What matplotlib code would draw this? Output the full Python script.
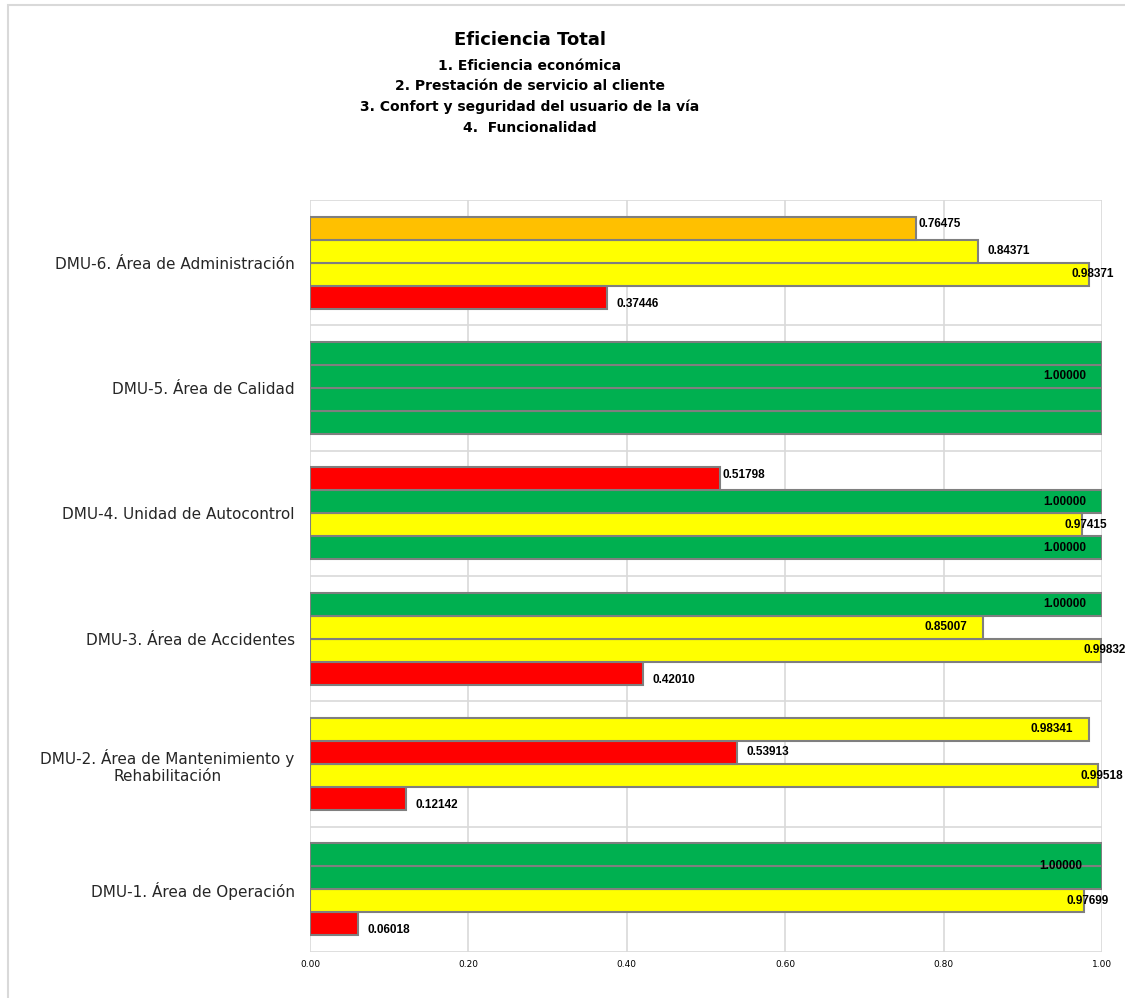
import numpy as np
import matplotlib
matplotlib.use("Agg")
from matplotlib import pyplot as plt
from matplotlib.patches import Rectangle

# Categories (bottom to top, as drawn)
dmus = ["DMU-1. Área de Operación",
        "DMU-2. Área de Mantenimiento y\nRehabilitación",
        "DMU-3. Área de Accidentes",
        "DMU-4. Unidad de Autocontrol",
        "DMU-5. Área de Calidad",
        "DMU-6. Área de Administración"]

# One list per criterion (series 1 is the lowest bar of each group)
ef_economica = [0.06018, 0.12142, 0.42010, 1.00000, 1.00000, 0.37446]
servicio_cliente = [0.97699, 0.99518, 0.99832, 0.97415, 1.00000, 0.98371]
confort_seguridad = [1.00000, 0.53913, 0.85007, 1.00000, 1.00000, 0.84371]
funcionalidad = [1.00000, 0.98341, 1.00000, 0.51798, 1.00000, 0.76475]

series = [ef_economica, servicio_cliente, confort_seguridad, funcionalidad]

# Where each data label sits (style only), same layout as series
label_mode = [
    ["low", "low", "low", "in", "none", "low"],
    ["end", "end", "end", "end", "none", "end"],
    ["mid", "out", "in", "in", "in", "out"],
    ["none", "in", "in", "side", "none", "side"],
]

def bar_color(v):
    # colour scale used in the original sheet
    if v >= 1.0:
        return "#00B050"
    if v >= 0.8:
        return "#FFFF00"
    if v >= 0.7:
        return "#FFC000"
    return "#FF0000"

plt.rcParams["font.family"] = ["DejaVu Sans"]

fig = plt.figure(figsize=(11.25, 9.98), dpi=100)
ax = fig.add_axes([310 / 1125, 1 - 952 / 998, 792 / 1125, 752 / 998])

y = np.arange(len(dmus))
h = 0.184
for i, vals in enumerate(series):
    pos = y - 2 * h + h * (i + 0.5)
    ax.barh(pos, vals, height=h, color=[bar_color(v) for v in vals],
            edgecolor="#7f7f7f", linewidth=1.5, zorder=3)
    for j, v in enumerate(vals):
        mode = label_mode[i][j]
        txt = "%.5f" % v
        kw = dict(fontsize=8.5, fontweight="bold", color="black", zorder=5,
                  family="Liberation Sans")
        if mode == "none":
            continue
        if mode == "in":
            ax.text(v - 0.02, pos[j], txt, ha="right", va="center", **kw)
        elif mode == "mid":
            ax.text(v - 0.025, pos[j] + h / 2, txt, ha="right", va="center", **kw)
        elif mode == "end":
            ax.text(v - 0.022, pos[j], txt, ha="left", va="center", **kw)
        elif mode == "out":
            ax.text(v + 0.012, pos[j], txt, ha="left", va="center", **kw)
        elif mode == "side":
            ax.text(v + 0.003, pos[j] + 0.03, txt, ha="left", va="center", **kw)
        elif mode == "low":
            ax.text(v + 0.012, pos[j] - 0.05, txt, ha="left", va="center", **kw)

ax.set_xlim(0, 1)
ax.set_ylim(-0.5, len(dmus) - 0.5)
ax.set_xticks(np.arange(0, 1.01, 0.2))
ax.set_xticklabels(["%.2f" % t for t in np.arange(0, 1.01, 0.2)], fontsize=6.5)
ax.set_yticks(y)
ax.set_yticklabels(dmus, fontsize=11, multialignment="center", color="#262626")
ax.tick_params(axis="both", length=0)
ax.tick_params(axis="y", pad=11)
ax.tick_params(axis="x", pad=6)

# grid: vertical at ticks, horizontal at group borders
for t in np.arange(0, 1.01, 0.2):
    ax.axvline(t, color="#d9d9d9", lw=1.2, zorder=1)
for b in np.arange(-0.5, len(dmus), 1.0):
    ax.axhline(b, color="#d9d9d9", lw=1.2, zorder=1)
for s in ax.spines.values():
    s.set_visible(False)

# titles
fig.text(530 / 1125, 1 - 40 / 998, "Eficiencia Total", ha="center", va="center",
         fontsize=13, fontweight="bold")
subs = ["1. Eficiencia económica",
        "2. Prestación de servicio al cliente",
        "3. Confort y seguridad del usuario de la vía",
        "4.  Funcionalidad"]
for k, s in enumerate(subs):
    fig.text(530 / 1125, 1 - (66 + 20.5 * k) / 998, s, ha="center", va="center",
             fontsize=10, fontweight="bold")

# chart area border
fig.patches.append(Rectangle((8 / 1125, -0.01), 1.2, 1 - 5 / 998 + 0.01,
                             transform=fig.transFigure, fill=False,
                             edgecolor="#d9d9d9", lw=1.5))

fig.savefig("out.png", dpi=100)
